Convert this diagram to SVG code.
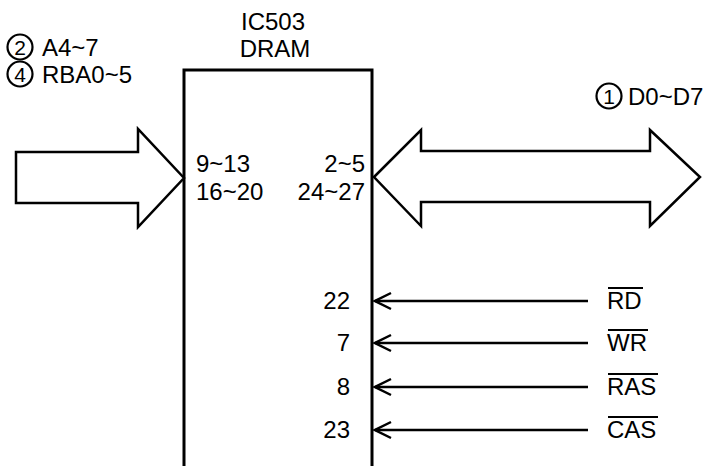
<svg xmlns="http://www.w3.org/2000/svg" width="706" height="466" viewBox="0 0 706 466">
<defs>
<style>
text{font-family:"Liberation Sans",Arial,sans-serif;font-size:24px;fill:#000}
.r{text-anchor:end}
.m{text-anchor:middle}
.d{font-size:21px;text-anchor:middle}
.o{fill:#fff;stroke:#000;stroke-width:2.5;stroke-linejoin:miter}
.w{stroke:#000;stroke-width:2.5;fill:none}
.c{fill:none;stroke:#000;stroke-width:2.2}
</style>
<marker id="ah" viewBox="0 0 20 20" refX="18" refY="10" markerWidth="20" markerHeight="20" markerUnits="userSpaceOnUse" orient="auto">
<path d="M2,2 L18,10 L2,18" fill="none" stroke="#000" stroke-width="2.5"/>
</marker>
</defs>
<rect width="706" height="466" fill="#fff"/>
<g id="ic503">
<rect x="184" y="70" width="188" height="410" class="o" style="stroke-width:3"/>
<text x="273" y="30" class="m">IC503</text>
<text x="275" y="57" class="m">DRAM</text>
<text x="196" y="172">9~13</text>
<text x="196" y="200">16~20</text>
<text x="365" y="172" class="r">2~5</text>
<text x="365" y="200" class="r">24~27</text>
<text x="350" y="309" class="r">22</text>
<text x="350" y="351" class="r">7</text>
<text x="350" y="395" class="r">8</text>
<text x="350" y="438" class="r">23</text>
</g>
<g id="addr-label">
<circle cx="20" cy="47" r="12.5" class="c"/>
<text x="20" y="54.5" class="d">2</text>
<text x="42" y="56">A4~7</text>
<circle cx="20" cy="74" r="12.5" class="c"/>
<text x="20" y="81.5" class="d">4</text>
<text x="42" y="83">RBA0~5</text>
</g>
<g id="data-label">
<circle cx="609" cy="96" r="12.5" class="c"/>
<text x="609" y="103.5" class="d">1</text>
<text x="628" y="105">D0~D7</text>
</g>
<g id="signals">
<text x="607" y="309">RD</text>
<text x="607" y="351">WR</text>
<text x="607" y="395">RAS</text>
<text x="607" y="438">CAS</text>
<path d="M608,288H643M608,330H648M608,374H658M608,417H658" stroke="#000" stroke-width="2.2"/>
</g>
<g id="connectors">
<path class="o" d="M16,152H138V129L184,178L138,227V203H16Z"/>
<path class="o" d="M374,177L421,130V151H650V130L700,177L650,226V202H421V226Z"/>
<path class="w" d="M588,301H375" marker-end="url(#ah)"/>
<path class="w" d="M588,343H375" marker-end="url(#ah)"/>
<path class="w" d="M588,387H375" marker-end="url(#ah)"/>
<path class="w" d="M588,430H375" marker-end="url(#ah)"/>
</g>
</svg>
